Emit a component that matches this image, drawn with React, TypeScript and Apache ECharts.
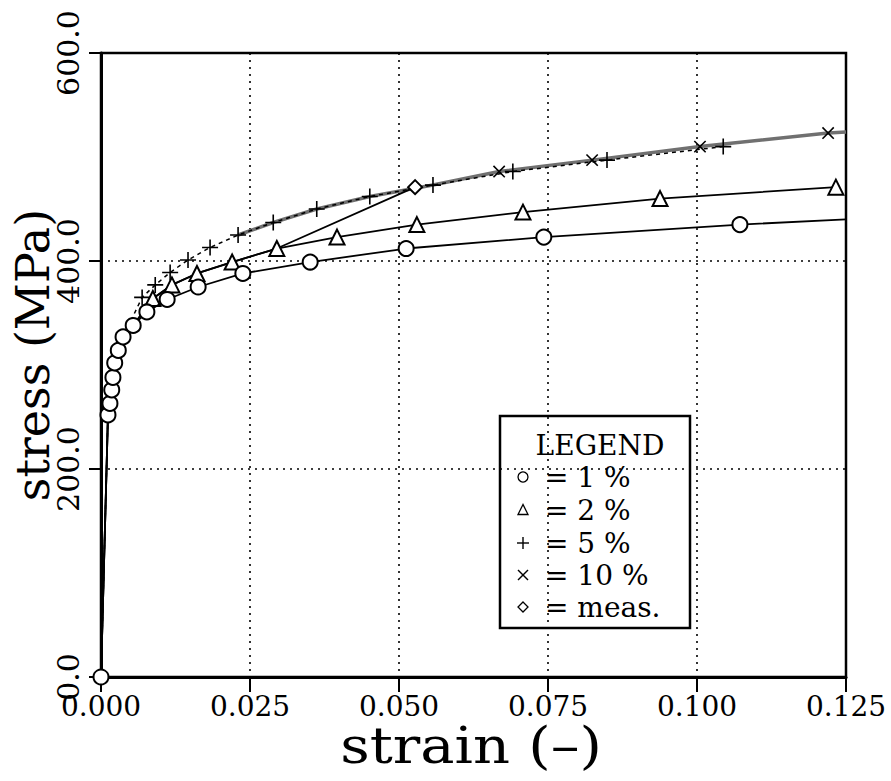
import React, { useEffect, useRef } from "react";
import * as echarts from "echarts";

// 1 % curve (circles) — last point has no marker
const strain1 = [0, 0.00117, 0.0015, 0.0018, 0.002, 0.0023, 0.0029, 0.0037, 0.0054, 0.0077, 0.0111, 0.0163, 0.0238, 0.0351, 0.0512, 0.0743, 0.1072];
const stress1 = [0, 252, 263, 276, 288, 302, 314, 327, 338, 351, 363, 375, 388, 399, 412, 423, 435];
const tail1 = [0.125, 440];

// 2 % curve (triangles), shares the 1 % curve up to index 8
const strain2 = [0.0087, 0.0119, 0.0161, 0.022, 0.0295, 0.0396, 0.053, 0.0708, 0.0938, 0.1233];
const stress2 = [364, 377, 388, 399, 412, 423, 435, 447, 460, 471];
const shared2 = 9;

// 5 % curve (plus), shares the 1 % curve from index 1 to 7
const strain5 = [0.0069, 0.0091, 0.0116, 0.0146, 0.0183, 0.023, 0.0289, 0.0362, 0.0451, 0.0557, 0.0691, 0.0849, 0.1044];
const stress5 = [365, 377, 389, 401, 413, 425, 437, 450, 462, 473, 486, 497, 510];
const shared5 = 8;

// 10 % curve (cross), follows the 5 % curve from index 5 to 9
const strain10 = [0.0668, 0.0824, 0.1005, 0.122];
const stress10 = [486, 497, 510, 523];
const from10 = 5;
const to10 = 10;
const tail10 = [0.125, 524];

// measured (diamond), follows the 2 % curve up to its index 4
const strainM = [0.0527];
const stressM = [471];
const to2M = 5;

const xTicks = { min: 0, max: 0.125, interval: 0.025 };
const yTicks = { min: 0, max: 600, interval: 200 };

const legendLabels = ["= 1 %", "= 2 %", "= 5 %", "= 10 %", "= meas."];

const FONT = "DejaVu Serif";
const PLUS = "path://M9,0H11V9H20V11H11V20H9V11H0V9H9Z";

const bare = (x: number, y: number) => ({ value: [x, y], symbol: "none" });

export default function App() {
  const ref = useRef<HTMLDivElement>(null);
  useEffect(() => {
    if (!ref.current) return;
    const chart = echarts.init(ref.current, null, { renderer: "svg" });

    const d1: any[] = strain1.map((x, i) => [x, stress1[i]]);
    d1.push(bare(tail1[0], tail1[1]));

    const pre2 = strain1.slice(0, shared2).map((x, i) => bare(x, stress1[i]));
    const d2: any[] = [...pre2, ...strain2.map((x, i) => [x, stress2[i]])];

    const d5: any[] = [[0, 0]];
    for (let i = 1; i < shared5; i++) d5.push(bare(strain1[i], stress1[i]));
    strain5.forEach((x, i) => d5.push([x, stress5[i]]));

    const d10: any[] = [];
    for (let i = from10; i < to10; i++) d10.push(bare(strain5[i], stress5[i]));
    strain10.forEach((x, i) => d10.push([x, stress10[i]]));
    d10.push(bare(tail10[0], tail10[1]));

    const dM: any[] = [...pre2];
    for (let i = 0; i < to2M; i++) dM.push(bare(strain2[i], stress2[i]));
    strainM.forEach((x, i) => dM.push([x, stressM[i]]));

    const legendY = [477, 510, 543, 575, 607];
    const sx = 523;
    const sym: any[] = [
      { type: "circle", shape: { cx: sx, cy: legendY[0], r: 5 }, style: { fill: "#fff", stroke: "#000", lineWidth: 1.3 } },
      { type: "polygon", shape: { points: [[sx, legendY[1] - 5.5], [sx - 5, legendY[1] + 4.5], [sx + 5, legendY[1] + 4.5]] }, style: { fill: "#fff", stroke: "#000", lineWidth: 1.3 } },
      { type: "line", shape: { x1: sx - 6, y1: legendY[2], x2: sx + 6, y2: legendY[2] }, style: { stroke: "#000", lineWidth: 1.4 } },
      { type: "line", shape: { x1: sx, y1: legendY[2] - 6, x2: sx, y2: legendY[2] + 6 }, style: { stroke: "#000", lineWidth: 1.4 } },
      { type: "line", shape: { x1: sx - 5, y1: legendY[3] - 5, x2: sx + 5, y2: legendY[3] + 5 }, style: { stroke: "#000", lineWidth: 1.4 } },
      { type: "line", shape: { x1: sx - 5, y1: legendY[3] + 5, x2: sx + 5, y2: legendY[3] - 5 }, style: { stroke: "#000", lineWidth: 1.4 } },
      { type: "polygon", shape: { points: [[sx, legendY[4] - 5], [sx + 5, legendY[4]], [sx, legendY[4] + 5], [sx - 5, legendY[4]]] }, style: { fill: "#fff", stroke: "#000", lineWidth: 1.3 } },
    ];

    chart.setOption({
      animation: false,
      backgroundColor: "#fff",
      grid: { left: 101, right: 45, top: 53, bottom: 104, show: true, borderColor: "#000", borderWidth: 2.5, backgroundColor: "transparent" },
      xAxis: {
        type: "value",
        ...xTicks,
        axisLine: { show: true, onZero: false, lineStyle: { color: "#000", width: 3 } },
        axisTick: { show: true, inside: false, length: 15, lineStyle: { color: "#000", width: 2 } },
        axisLabel: { color: "#000", fontFamily: FONT, fontSize: 28, margin: 15, formatter: (v: number) => v.toFixed(3) },
        splitLine: { show: true, lineStyle: { color: "#000", width: 1.6, type: [2, 5] } },
      },
      yAxis: {
        type: "value",
        ...yTicks,
        axisLine: { show: true, onZero: false, lineStyle: { color: "#000", width: 3 } },
        axisTick: { show: true, inside: false, length: 12, lineStyle: { color: "#000", width: 2 } },
        axisLabel: { color: "#000", fontFamily: FONT, fontSize: 30, margin: 18, rotate: 90, formatter: (v: number) => v.toFixed(1) },
        splitLine: { show: true, lineStyle: { color: "#000", width: 1.6, type: [2, 5] } },
      },
      series: [
        {
          name: "10 %", type: "line", data: d10, symbol: PLUS, symbolRotate: 45, symbolSize: 16,
          lineStyle: { color: "#707070", width: 3.5 }, itemStyle: { color: "#000", borderWidth: 0 }, z: 2,
        },
        {
          name: "5 %", type: "line", data: d5, symbol: PLUS, symbolSize: 16,
          lineStyle: { color: "#000", width: 1.5, type: [4, 4] }, itemStyle: { color: "#000", borderWidth: 0 }, z: 3,
        },
        {
          name: "meas.", type: "line", data: dM, symbol: "emptyDiamond", symbolSize: 14,
          lineStyle: { color: "#000", width: 1.8 }, itemStyle: { color: "#000", borderColor: "#000", borderWidth: 1.3 }, z: 4,
        },
        {
          name: "2 %", type: "line", data: d2, symbol: "emptyTriangle", symbolSize: 15,
          lineStyle: { color: "#000", width: 1.8 }, itemStyle: { color: "#000", borderColor: "#000", borderWidth: 1.3 }, z: 5,
        },
        {
          name: "1 %", type: "line", data: d1, symbol: "emptyCircle", symbolSize: 15,
          lineStyle: { color: "#000", width: 1.8 }, itemStyle: { color: "#000", borderColor: "#000", borderWidth: 1.3 }, z: 6,
        },
      ],
      graphic: [
        {
          type: "text", x: 471, y: 746, scaleX: 1.15,
          style: { text: "strain (–)", fontFamily: FONT, fontSize: 50, fill: "#000", textAlign: "center", textVerticalAlign: "middle" },
        },
        {
          type: "text", x: 33, y: 355, rotation: Math.PI / 2,
          style: { text: "stress (MPa)", fontFamily: FONT, fontSize: 46, fill: "#000", textAlign: "center", textVerticalAlign: "middle" },
        },
        {
          type: "group", z: 100,
          children: [
            { type: "rect", shape: { x: 500, y: 416, width: 190, height: 212 }, style: { fill: "#fff", stroke: "#000", lineWidth: 2.5 } },
            { type: "text", x: 600, y: 445, style: { text: "LEGEND", fontFamily: FONT, fontSize: 28, fill: "#000", textAlign: "center", textVerticalAlign: "middle" } },
            ...legendLabels.map((t, i) => ({
              type: "text", x: 545, y: legendY[i],
              style: { text: t, fontFamily: FONT, fontSize: 28, fill: "#000", textAlign: "left", textVerticalAlign: "middle" },
            })),
            ...sym,
          ],
        },
      ],
    });
    return () => chart.dispose();
  }, []);
  return <div ref={ref} style={{ position: "fixed", left: 0, top: 0, width: 891, height: 781, background: "#fff" }} />;
}
